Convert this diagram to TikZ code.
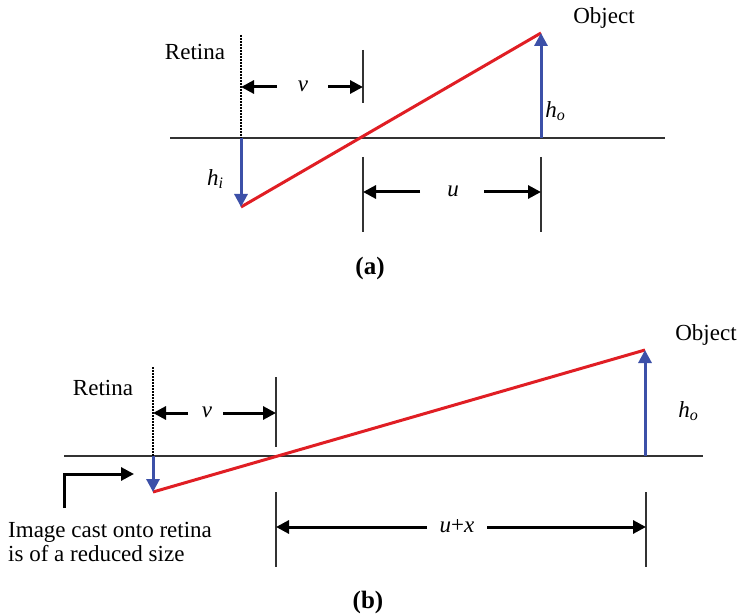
\documentclass[tikz,border=0pt]{standalone}
\usepackage{fontspec}
\setmainfont{Liberation Serif}
\usetikzlibrary{arrows.meta}
\definecolor{rayred}{RGB}{224,30,36}
\definecolor{arrblue}{RGB}{60,80,168}
\definecolor{axisgray}{RGB}{50,50,50}
\newcommand{\subit}[2]{\textit{#1}\raisebox{-0.35ex}{\fontsize{16}{16}\selectfont\textit{#2}}}
\begin{document}
\begin{tikzpicture}[x=1pt,y=-1pt,
  axis/.style={draw=axisgray,line width=1.5pt},
  dimline/.style={draw=axisgray,line width=1.5pt},
  dimarrow/.style={draw=black,line width=3pt,-{Triangle[length=13pt,width=13pt]}},
  bluearrow/.style={draw=arrblue,line width=3pt,-{Triangle[length=13pt,width=13pt]}},
  ray/.style={draw=rayred,line width=3pt},
  retina/.style={draw=black,line width=2.6pt,dash pattern=on 1.6pt off 1.4pt},
  lbl/.style={font=\fontsize{23}{27}\selectfont,inner sep=0pt},
  captxt/.style={font=\fontsize{25}{29}\selectfont\bfseries,inner sep=0pt},
]
\useasboundingbox (0,0) rectangle (742,615);

% ---------------- panel (a) ----------------
\coordinate (aL) at (170,138);
\coordinate (aR) at (665,138);
\coordinate (aRetT) at (241,35);
\coordinate (aRetB) at (241,138);
\coordinate (aImg) at (241,207);
\coordinate (aObjB) at (541,138);
\coordinate (aObjT) at (541,33);
\coordinate (aLensT) at (363,50);
\coordinate (aLensB) at (363,103);
\coordinate (aULT) at (363,157);
\coordinate (aULB) at (363,232);
\coordinate (aURT) at (541,157);
\coordinate (aURB) at (541,232);
\coordinate (aVs1) at (277,87);
\coordinate (aVe1) at (241,87);
\coordinate (aVs2) at (328,87);
\coordinate (aVe2) at (363,87);
\coordinate (aUs1) at (420,192);
\coordinate (aUe1) at (363,192);
\coordinate (aUs2) at (484,192);
\coordinate (aUe2) at (541,192);

\draw[axis] (aL) -- (aR);
\draw[retina] (aRetT) -- (aRetB);
\draw[dimline] (aLensT) -- (aLensB);
\draw[dimline] (aULT) -- (aULB);
\draw[dimline] (aURT) -- (aURB);
\draw[ray] (aImg) -- (aObjT);
\draw[bluearrow] (aRetB) -- (aImg);
\draw[bluearrow] (aObjB) -- (aObjT);
\draw[dimarrow] (aVs1) -- (aVe1);
\draw[dimarrow] (aVs2) -- (aVe2);
\draw[dimarrow] (aUs1) -- (aUe1);
\draw[dimarrow] (aUs2) -- (aUe2);

\node[lbl] (aRetina) at (195,52) {Retina};
\node[lbl] (aObject) at (604,18) {Object};
\node[lbl] (av) at (303,86) {\textit{v}};
\node[lbl] (au) at (453,191) {\textit{u}};
\node[lbl] (ahi) at (215,179) {\subit{h}{i}};
\node[lbl] (aho) at (555,111) {\subit{h}{o}};
\node[captxt] (acap) at (370,268) {(a)};

% ---------------- panel (b) ----------------
\coordinate (bL) at (64,456);
\coordinate (bR) at (703,456);
\coordinate (bRetT) at (153,367);
\coordinate (bRetB) at (153,456);
\coordinate (bImg) at (153,492);
\coordinate (bObjB) at (645,456);
\coordinate (bObjT) at (645,350);
\coordinate (bLensT) at (276,377);
\coordinate (bLensB) at (276,447);
\coordinate (bULT) at (276,492);
\coordinate (bULB) at (276,567);
\coordinate (bURT) at (646,492);
\coordinate (bURB) at (646,567);
\coordinate (bVs1) at (188,413);
\coordinate (bVe1) at (153,413);
\coordinate (bVs2) at (223,413);
\coordinate (bVe2) at (276,413);
\coordinate (bUs1) at (427,527);
\coordinate (bUe1) at (276,527);
\coordinate (bUs2) at (487,527);
\coordinate (bUe2) at (646,527);
\coordinate (bElb0) at (64,508);
\coordinate (bElb1) at (64,474);
\coordinate (bElb2) at (134,474);

\draw[axis] (bL) -- (bR);
\draw[retina] (bRetT) -- (bRetB);
\draw[dimline] (bLensT) -- (bLensB);
\draw[dimline] (bULT) -- (bULB);
\draw[dimline] (bURT) -- (bURB);
\draw[ray] (bImg) -- (bObjT);
\draw[bluearrow] (bRetB) -- (bImg);
\draw[bluearrow] (bObjB) -- (bObjT);
\draw[dimarrow] (bVs1) -- (bVe1);
\draw[dimarrow] (bVs2) -- (bVe2);
\draw[dimarrow] (bUs1) -- (bUe1);
\draw[dimarrow] (bUs2) -- (bUe2);
\draw[dimarrow] (bElb0) -- (bElb1) -- (bElb2);

\node[lbl] (bRetina) at (103,388) {Retina};
\node[lbl] (bObject) at (706,335) {Object};
\node[lbl] (bv) at (207,412) {\textit{v}};
\node[lbl] (bux) at (457,526) {\textit{u}+\textit{x}};
\node[lbl] (bho) at (688,411) {\subit{h}{o}};
\node[lbl,anchor=west,align=left,font=\fontsize{23}{24}\selectfont] (bnote) at (8,542) {Image cast onto retina\\is of a reduced size};
\node[captxt] (bcap) at (368,602) {(b)};
\end{tikzpicture}
\end{document}
